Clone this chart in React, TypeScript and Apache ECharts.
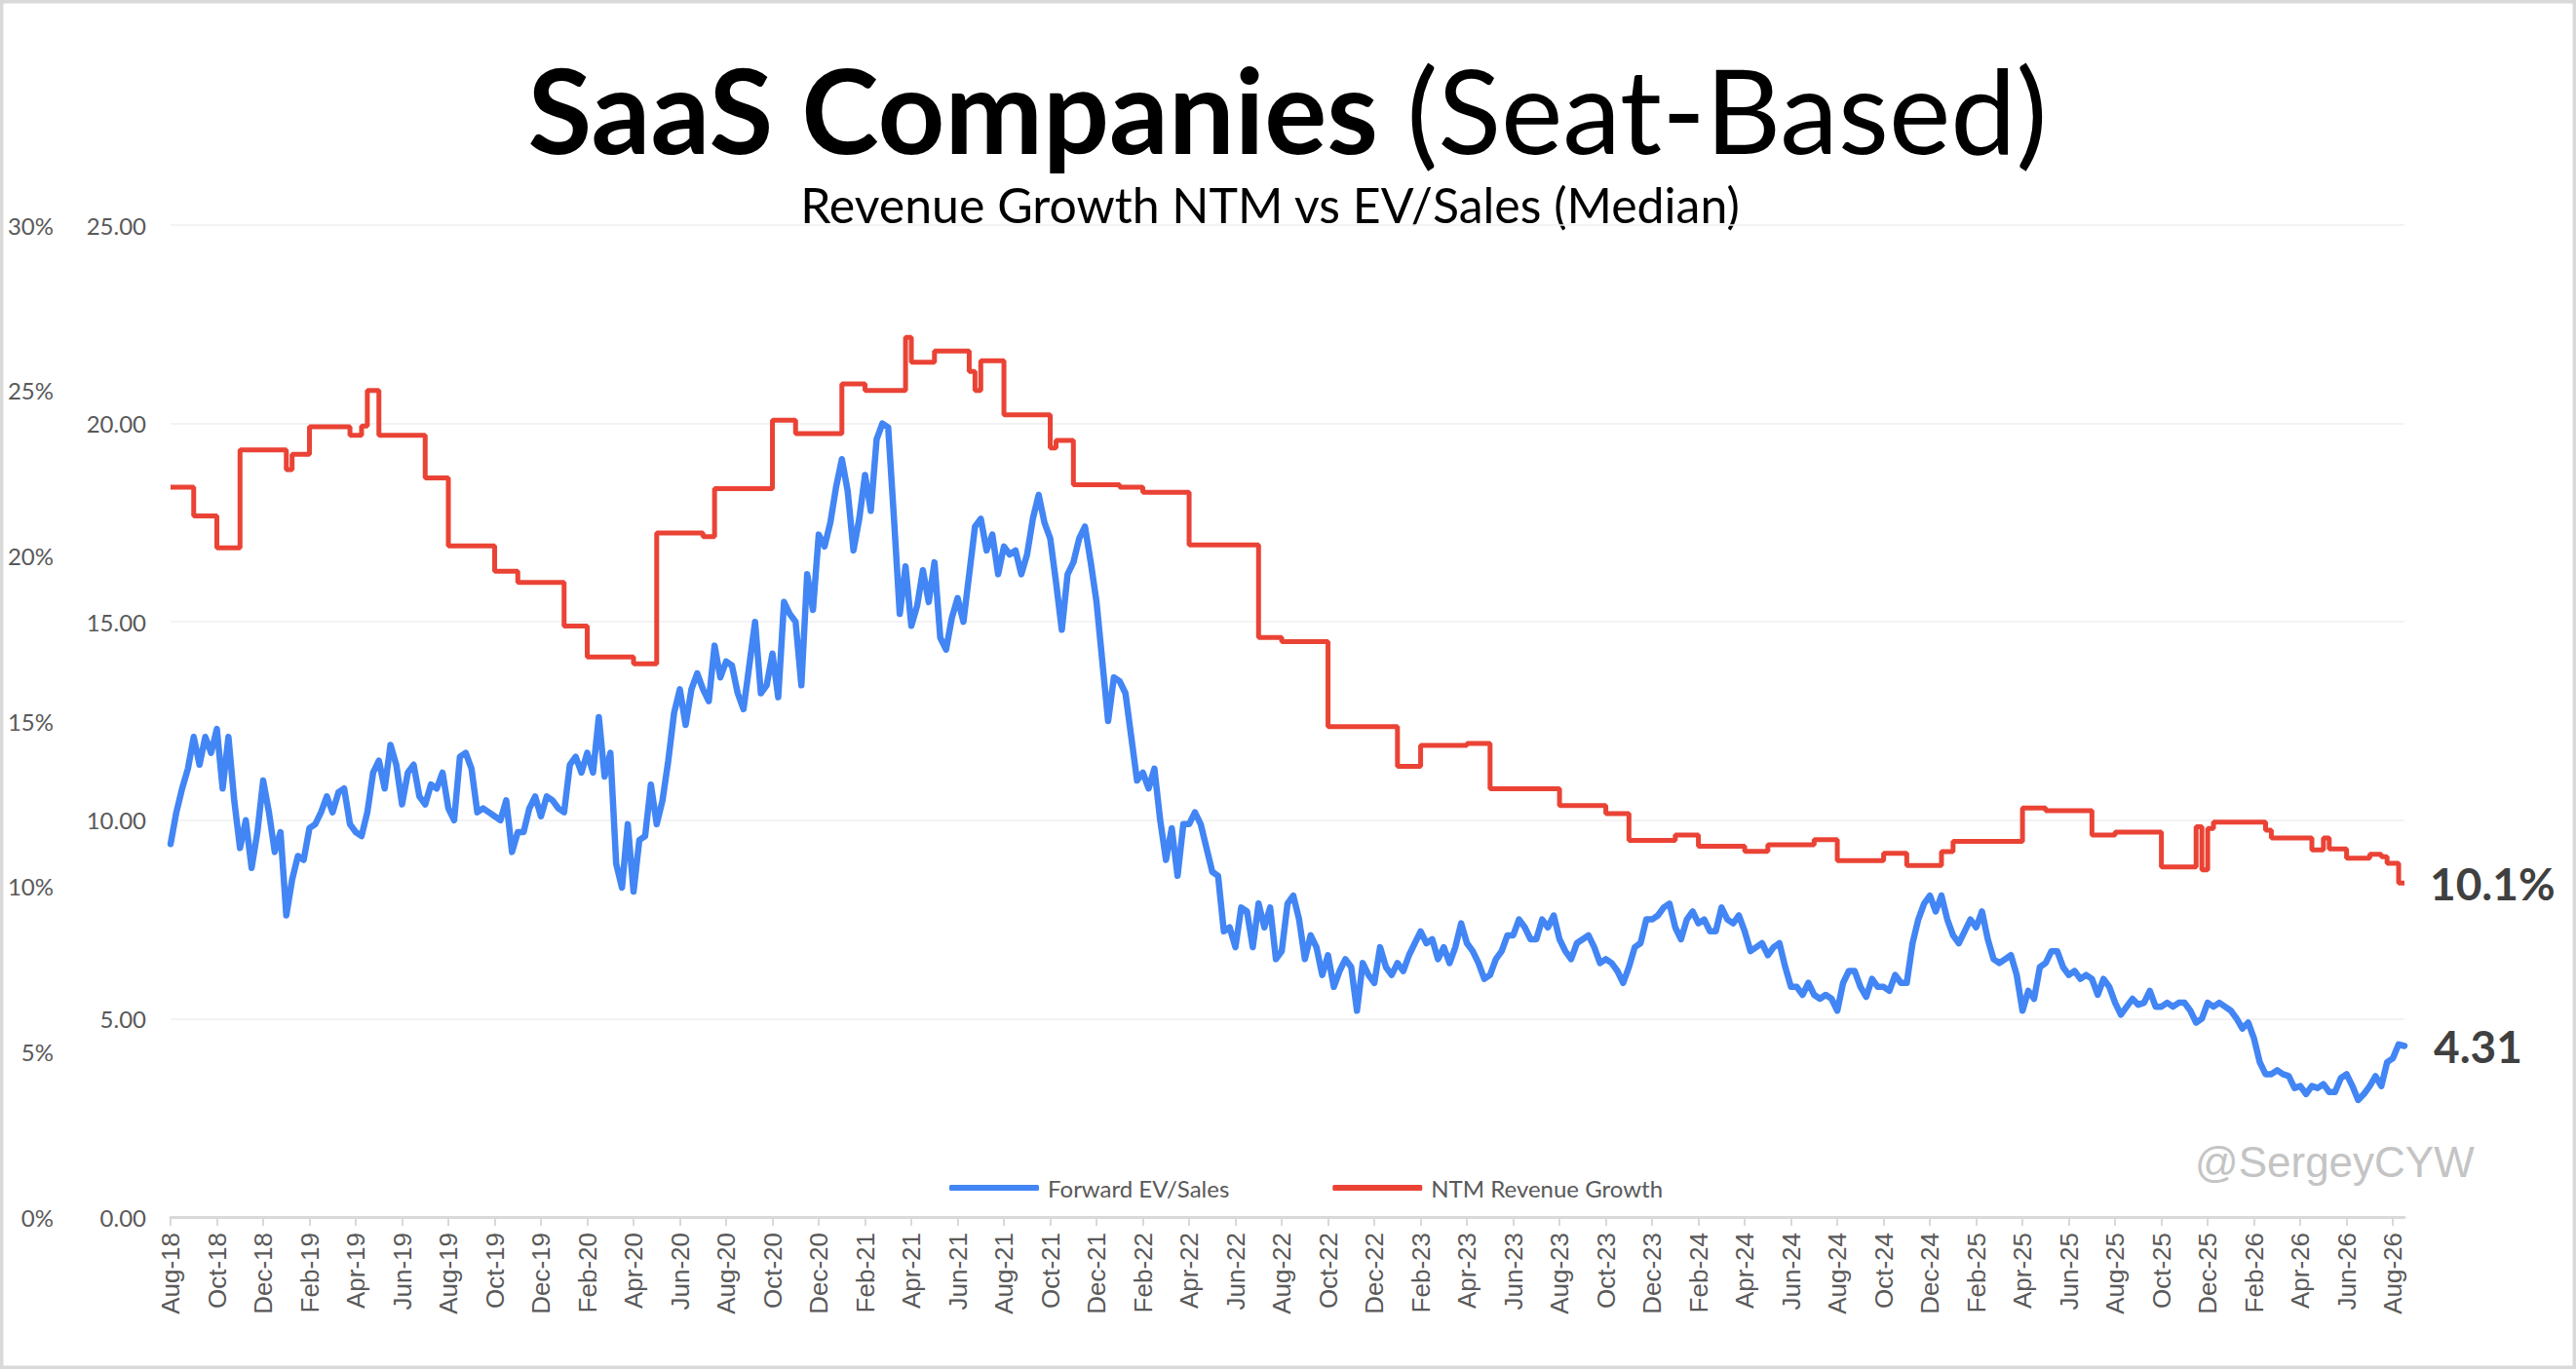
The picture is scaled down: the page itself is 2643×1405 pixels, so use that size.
import { useEffect, useRef } from 'react'
import * as echarts from 'echarts'

const MONTH_NAMES = ['Jan', 'Feb', 'Mar', 'Apr', 'May', 'Jun', 'Jul', 'Aug', 'Sep', 'Oct', 'Nov', 'Dec']

// Aug-18 … Aug-26, labelled every second month on the axis
const months: string[] = []
for (let i = 0; i <= 96; i++) {
  const d = 7 + i
  months.push(`${MONTH_NAMES[d % 12]}-${String(2018 + Math.floor(d / 12)).slice(2)}`)
}

// Forward EV/Sales (median), about one reading per week, one row per month
const evSalesWeekly: number[][] = [
  [9.4, 10.2, 10.8, 11.3], [12.1, 11.4, 12.1, 11.7], [12.3, 10.8, 12.1, 10.5], [9.3, 10.0, 8.8, 9.7], [11.0, 10.2, 9.2, 9.7],
  [7.6, 8.5, 9.1, 9.0], [9.8, 9.9, 10.2, 10.6], [10.2, 10.7, 10.8, 9.9], [9.7, 9.6, 10.2, 11.2], [11.5, 10.8, 11.9, 11.4],
  [10.4, 11.2, 11.4, 10.6], [10.4, 10.9, 10.8, 11.2], [10.3, 10.0, 11.6, 11.7], [11.3, 10.2, 10.3, 10.2], [10.1, 10.0, 10.5, 9.2],
  [9.7, 9.7, 10.3, 10.6], [10.1, 10.6, 10.5, 10.3],
  [10.2, 11.4, 11.6, 11.2], [11.7, 11.2, 12.6, 11.1], [11.7, 8.9, 8.3, 9.9], [8.2, 9.5, 9.6, 10.9], [9.9, 10.5, 11.5, 12.7],
  [13.3, 12.4, 13.3, 13.7], [13.3, 13.0, 14.4, 13.6], [14.0, 13.9, 13.2, 12.8], [13.9, 15.0, 13.2, 13.4], [14.2, 13.1, 15.5, 15.2],
  [15.0, 13.4, 16.2, 15.3], [17.2, 16.9, 17.5, 18.4],
  [19.1, 18.3, 16.8, 17.6], [18.7, 17.8, 19.6, 20.0], [19.9, 17.6, 15.2, 16.4], [14.9, 15.4, 16.3, 15.5], [16.5, 14.6, 14.3, 15.1],
  [15.6, 15.0, 16.2, 17.4], [17.6, 16.8, 17.2, 16.2], [16.9, 16.7, 16.8, 16.2], [16.7, 17.6, 18.2, 17.5], [17.1, 16.0, 14.8, 16.2],
  [16.5, 17.1, 17.4, 16.5], [15.5, 14.0, 12.5, 13.6],
  [13.5, 13.2, 12.1, 11.0], [11.2, 10.8, 11.3, 10.0], [9.0, 9.8, 8.6, 9.9], [9.9, 10.2, 9.9, 9.3], [8.7, 8.6, 7.2, 7.3],
  [6.8, 7.8, 7.7, 6.8], [7.9, 7.3, 7.8, 6.5], [6.7, 7.9, 8.1, 7.5], [6.5, 7.1, 6.8, 6.1], [6.6, 5.8, 6.2, 6.5],
  [6.3, 5.2, 6.4, 6.1], [5.9, 6.8, 6.3, 6.1],
  [6.4, 6.2, 6.6, 6.9], [7.2, 6.9, 7.0, 6.5], [6.8, 6.4, 6.8, 7.4], [6.9, 6.7, 6.4, 6.0], [6.1, 6.5, 6.7, 7.1],
  [7.1, 7.5, 7.3, 7.0], [7.0, 7.5, 7.3, 7.6], [7.0, 6.7, 6.5, 6.9], [7.0, 7.1, 6.8, 6.4], [6.5, 6.4, 6.2, 5.9],
  [6.3, 6.8, 6.9, 7.5], [7.5, 7.6, 7.8, 7.9],
  [7.3, 7.0, 7.5, 7.7], [7.4, 7.5, 7.2, 7.2], [7.8, 7.5, 7.4, 7.6], [7.2, 6.7, 6.8, 6.9], [6.6, 6.8, 6.9, 6.3],
  [5.8, 5.8, 5.6, 5.9], [5.6, 5.5, 5.6, 5.5], [5.2, 5.9, 6.2, 6.2], [5.8, 5.55, 6.0, 5.8], [5.8, 5.7, 6.1, 5.9],
  [5.9, 6.9, 7.5, 7.9], [8.1, 7.7, 8.1, 7.5],
  [7.1, 6.9, 7.2, 7.5], [7.3, 7.7, 7.0, 6.5], [6.4, 6.5, 6.6, 6.1], [5.2, 5.7, 5.5, 6.3], [6.4, 6.7, 6.7, 6.3],
  [6.1, 6.2, 6.0, 6.1], [6.0, 5.6, 6.0, 5.8], [5.4, 5.1, 5.3, 5.5], [5.35, 5.4, 5.7, 5.3], [5.3, 5.4, 5.3, 5.4],
  [5.4, 5.2, 4.9, 5.0], [5.4, 5.3, 5.4, 5.3],
  [5.2, 5.0, 4.75, 4.9], [4.5, 3.9, 3.6, 3.6], [3.7, 3.6, 3.55, 3.25], [3.3, 3.1, 3.3, 3.25], [3.35, 3.15, 3.15, 3.5],
  [3.6, 3.3, 2.95, 3.1], [3.3, 3.55, 3.3, 3.9], [4.0, 4.35, 4.31],
]

// NTM revenue growth (%), a step series: each entry is where a new value starts
const growthSteps: [string, number][] = [
  ['Aug-18#1', 22.07], ['Sep-18#1', 21.2], ['Oct-18#1', 20.24], ['Nov-18#1', 23.2], ['Jan-19#1', 22.6], ['Jan-19#2', 23.07],
  ['Feb-19#1', 23.9], ['Mar-19#4', 23.64], ['Apr-19#2', 23.92], ['Apr-19#3', 25.0], ['May-19#1', 23.64], ['Jul-19#1', 22.35],
  ['Aug-19#1', 20.3], ['Oct-19#1', 19.53], ['Nov-19#1', 19.19], ['Jan-20#1', 17.87], ['Feb-20#1', 16.94], ['Apr-20#1', 16.73],
  ['May-20#1', 20.69], ['Jul-20#1', 20.58], ['Jul-20#3', 22.03], ['Oct-20#1', 24.1], ['Nov-20#1', 23.69], ['Jan-21#1', 25.2],
  ['Feb-21#1', 25.0], ['Mar-21#4', 26.6], ['Apr-21#1', 25.85], ['May-21#1', 26.19], ['Jun-21#3', 25.57], ['Jun-21#4', 25.0],
  ['Jul-21#1', 25.9], ['Aug-21#1', 24.26], ['Oct-21#1', 23.26], ['Oct-21#2', 23.49], ['Nov-21#1', 22.15], ['Jan-22#1', 22.07],
  ['Feb-22#1', 21.92], ['Apr-22#1', 20.33], ['Jul-22#1', 17.53], ['Aug-22#1', 17.4], ['Oct-22#1', 14.83], ['Jan-23#1', 13.63],
  ['Feb-23#1', 14.26], ['Apr-23#1', 14.32], ['May-23#1', 12.95], ['Aug-23#1', 12.44], ['Oct-23#1', 12.2], ['Nov-23#1', 11.39],
  ['Jan-24#1', 11.55], ['Feb-24#1', 11.21], ['Apr-24#1', 11.06], ['May-24#1', 11.26], ['Jul-24#1', 11.41], ['Aug-24#1', 10.78],
  ['Oct-24#1', 11.0], ['Nov-24#1', 10.63], ['Dec-24#3', 11.05], ['Jan-25#1', 11.36], ['Apr-25#1', 12.37], ['May-25#1', 12.29],
  ['Jul-25#1', 11.55], ['Aug-25#1', 11.64], ['Oct-25#1', 10.59], ['Nov-25#3', 11.8], ['Nov-25#4', 10.5], ['Dec-25#1', 11.75],
  ['Dec-25#2', 11.94], ['Feb-26#3', 11.7], ['Feb-26#4', 11.46], ['Apr-26#3', 11.1], ['May-26#1', 11.46], ['May-26#2', 11.13],
  ['Jun-26#1', 10.85], ['Jul-26#1', 10.97], ['Jul-26#3', 10.9], ['Jul-26#4', 10.7], ['Aug-26#2', 10.1], ['Aug-26#3', 10.1],
]

const evTicks = [0, 5, 10, 15, 20, 25]
const growthTicks = [0, 5, 10, 15, 20, 25, 30]

const categories = months.flatMap((m, i) => evSalesWeekly[i].map((_, q) => `${m}#${q + 1}`))
const evSales = evSalesWeekly.flat()

const BLUE = '#4285f4'
const RED = '#ea4335'
const AXIS_TEXT = '#595959'
const everyTwoMonths = (index: number) => index % 8 === 0

export default function App() {
  const chartRef = useRef<HTMLDivElement>(null)

  useEffect(() => {
    if (!chartRef.current) return
    const chart = echarts.init(chartRef.current, undefined, { renderer: 'svg' })

    chart.setOption({
      animation: false,
      backgroundColor: '#ffffff',
      textStyle: { fontFamily: 'Lato' },
      grid: { left: 175, right: 176, top: 231, bottom: 156 },
      legend: {
        left: 969,
        top: 1202,
        icon: 'roundRect',
        itemWidth: 92,
        itemHeight: 6,
        itemGap: 106,
        textStyle: { color: AXIS_TEXT, fontSize: 24, fontFamily: 'Lato', padding: [0, 0, 0, 4] },
        data: ['Forward EV/Sales', 'NTM Revenue Growth'],
      },
      xAxis: {
        type: 'category',
        data: categories,
        boundaryGap: false,
        axisLine: { lineStyle: { color: '#d9d9d9', width: 3 } },
        axisTick: { interval: everyTwoMonths, length: 9, lineStyle: { color: '#d9d9d9', width: 2 } },
        axisLabel: {
          interval: everyTwoMonths,
          rotate: 90,
          margin: 16,
          formatter: (v: string) => v.split('#')[0],
          fontFamily: 'Liberation Sans',
          fontSize: 26,
          color: AXIS_TEXT,
        },
        splitLine: { show: false },
      },
      yAxis: [
        {
          type: 'value',
          position: 'left',
          min: evTicks[0],
          max: evTicks[evTicks.length - 1],
          interval: 5,
          axisLine: { show: false },
          axisTick: { show: false },
          axisLabel: { formatter: (v: number) => v.toFixed(2), margin: 25, fontSize: 24, color: AXIS_TEXT },
          splitLine: { lineStyle: { color: '#efefef', width: 1.5 } },
        },
        {
          type: 'value',
          position: 'left',
          min: growthTicks[0],
          max: growthTicks[growthTicks.length - 1],
          interval: 5,
          axisLine: { show: false },
          axisTick: { show: false },
          axisLabel: { formatter: (v: number) => `${v}%`, margin: 120, fontSize: 24, color: AXIS_TEXT },
          splitLine: { show: false },
        },
      ],
      series: [
        {
          name: 'Forward EV/Sales',
          type: 'line',
          yAxisIndex: 0,
          data: evSales,
          symbol: 'none',
          color: BLUE,
          lineStyle: { color: BLUE, width: 6.5, join: 'round', cap: 'round' },
          endLabel: {
            show: true,
            distance: 30,
            formatter: (p: any) => Number(p.value).toFixed(2),
            color: '#404040',
            fontSize: 46,
            fontWeight: 'bold',
            fontFamily: 'Lato',
          },
          z: 3,
        },
        {
          name: 'NTM Revenue Growth',
          type: 'line',
          yAxisIndex: 1,
          step: 'end',
          data: growthSteps,
          symbol: 'none',
          color: RED,
          lineStyle: { color: RED, width: 5 },
          endLabel: {
            show: true,
            distance: 26,
            formatter: (p: any) => {
              const v = Array.isArray(p.value) ? p.value[p.value.length - 1] : p.value
              return `${Number(v).toFixed(1)}%`
            },
            color: '#404040',
            fontSize: 46,
            fontWeight: 'bold',
            fontFamily: 'Lato',
          },
          z: 2,
        },
      ],
      graphic: [
        {
          type: 'rect',
          silent: true,
          shape: { x: 0, y: 0, width: 2643, height: 1405 },
          style: { fill: 'none', stroke: '#d9d9d9', lineWidth: 7 },
        },
        {
          type: 'text',
          x: 1321,
          y: 112,
          style: {
            text: '{b|SaaS Companies }{r|(Seat-Based)}',
            align: 'center',
            verticalAlign: 'middle',
            fill: '#000',
            rich: {
              b: { fontFamily: 'Lato', fontWeight: 'bold', fontSize: 120, fill: '#000' },
              r: { fontFamily: 'Lato', fontWeight: 'normal', fontSize: 120, fill: '#000' },
            },
          },
        },
        {
          type: 'text',
          x: 1303,
          y: 210,
          style: {
            text: 'Revenue Growth NTM vs EV/Sales (Median)',
            align: 'center',
            verticalAlign: 'middle',
            fill: '#000',
            font: '50px Lato',
          },
        },
        {
          type: 'text',
          x: 2252,
          y: 1192,
          style: {
            text: '@SergeyCYW',
            verticalAlign: 'middle',
            fill: '#c4c4c4',
            font: '44px "Liberation Sans"',
          },
        },
      ],
    })

    return () => chart.dispose()
  }, [])

  return (
    <div
      ref={chartRef}
      style={{ position: 'fixed', left: 0, top: 0, width: 2643, height: 1405 }}
    />
  )
}
